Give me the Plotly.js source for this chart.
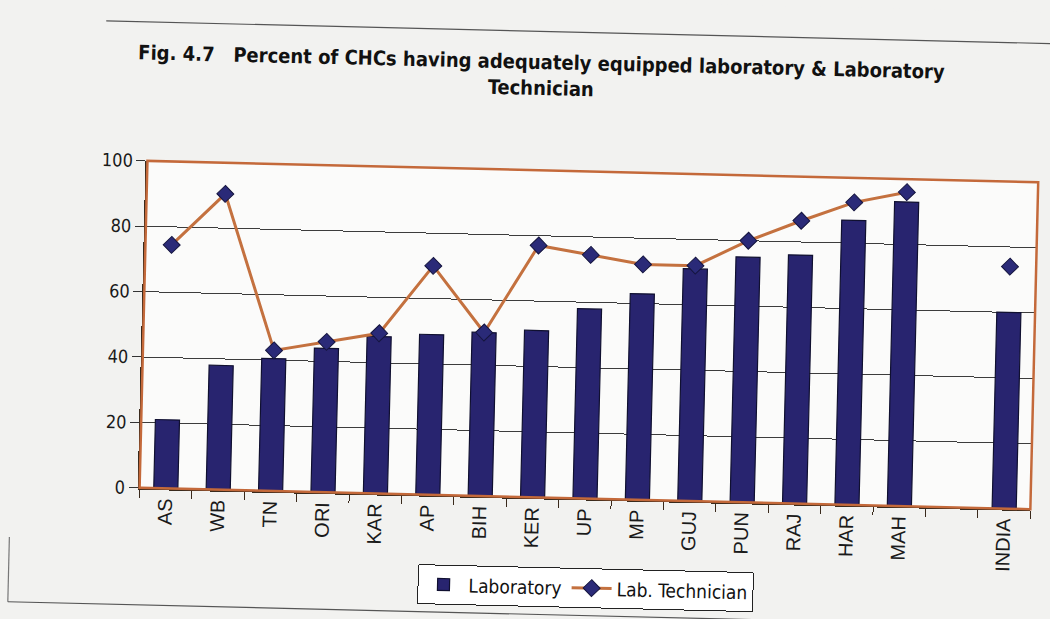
<!DOCTYPE html>
<html>
<head>
<meta charset="utf-8">
<script src="https://cdn.plot.ly/plotly-3.0.1.min.js"></script>
<style>
  html, body { margin: 0; padding: 0; background: #f2f2f0; overflow: hidden; }
  #chart { width: 1050px; height: 619px; transform: rotate(1.375deg); }
</style>
</head>
<body>
<div id="chart"></div>
<script>
// State-wise share of CHCs (%) – blank slot separates the states from the all-India figure
const categories = ['AS', 'WB', 'TN', 'ORI', 'KAR', 'AP', 'BIH', 'KER', 'UP', 'MP', 'GUJ', 'PUN', 'RAJ', 'HAR', 'MAH', ' ', 'INDIA'];
const laboratory = [21, 38, 40.5, 44, 48, 49, 50, 51, 58, 63, 71, 75, 76, 87, 93, null, 60];
const labTechnician = [74.5, 90.5, 43, 46, 49, 70, 50, 77, 74.5, 72, 72, 80, 86.5, 92.5, 96, null, 74];
const yTicks = [0, 20, 40, 60, 80, 100];

const condensed = '"DejaVu Sans Condensed", "Liberation Sans Narrow", sans-serif';
const regular = '"Liberation Sans", Arial, sans-serif';

const traces = [
  {
    type: 'bar',
    name: 'Laboratory',
    x: categories,
    y: laboratory,
    marker: { color: '#28246f', line: { color: '#101030', width: 1.2 } }
  },
  {
    type: 'scatter',
    mode: 'lines+markers',
    name: 'Lab. Technician',
    x: categories,
    y: labTechnician,
    connectgaps: false,
    line: { color: '#c4713f', width: 3 },
    marker: { symbol: 'diamond', size: 13, color: '#2a2a78', line: { color: '#15153f', width: 1 } }
  }
];

const layout = {
  width: 1050,
  height: 619,
  paper_bgcolor: '#f2f2f0',
  plot_bgcolor: '#fbfbfa',
  margin: { l: 144, r: 15, t: 170, b: 122 },
  bargap: 0.54,
  showlegend: true,
  title: {
    text: 'Fig. 4.7&nbsp;&nbsp;&nbsp;Percent of CHCs having adequately equipped laboratory &amp; Laboratory<br>Technician',
    font: { family: condensed, size: 20, color: '#111111', weight: 'bold' },
    x: 0.51, xanchor: 'center',
    y: 0.889, yanchor: 'top', yref: 'container'
  },
  xaxis: {
    type: 'category',
    categoryarray: categories,
    range: [-0.5, categories.length - 0.5],
    tickson: 'boundaries',
    ticks: 'outside',
    ticklen: 8,
    tickcolor: '#3a2a1c',
    tickangle: -90,
    tickfont: { family: regular, size: 20, color: '#1a1a1a' },
    showline: true,
    linecolor: '#3a2a1c',
    linewidth: 2,
    showgrid: false,
    fixedrange: true
  },
  yaxis: {
    range: [0, 100],
    tickvals: yTicks,
    ticks: 'outside',
    ticklen: 9,
    tickcolor: '#333333',
    tickfont: { family: condensed, size: 18, color: '#1a1a1a' },
    showline: true,
    linecolor: '#3a2a1c',
    linewidth: 2,
    showgrid: true,
    gridcolor: '#3c3c3c',
    gridwidth: 1,
    zeroline: false,
    fixedrange: true
  },
  legend: {
    orientation: 'h',
    x: 0.503, xanchor: 'center',
    y: -0.274, yanchor: 'middle',
    bgcolor: '#ffffff',
    bordercolor: '#222222',
    borderwidth: 1,
    font: { family: condensed, size: 19, color: '#111111' },
    itemwidth: 40
  },
  shapes: [
    // orange frame round the plotting area
    { type: 'rect', xref: 'paper', yref: 'paper', x0: 0, x1: 1, y0: 0, y1: 1,
      line: { color: '#c4693a', width: 2.5 }, layer: 'above' },
    // outer chart border (top, left and bottom edges)
    { type: 'line', xref: 'paper', yref: 'paper', x0: -0.05, x1: 1.03, y0: 1.425, y1: 1.425,
      line: { color: '#555555', width: 1.2 } },
    { type: 'line', xref: 'paper', yref: 'paper', x0: -0.1448, x1: -0.1448, y0: -0.16, y1: -0.358,
      line: { color: '#777777', width: 1.2 } },
    { type: 'line', xref: 'paper', yref: 'paper', x0: -0.1448, x1: 1.03, y0: -0.358, y1: -0.358,
      line: { color: '#555555', width: 1.2 } }
  ]
};

Plotly.newPlot('chart', traces, layout, { staticPlot: true, displayModeBar: false });
</script>
</body>
</html>
